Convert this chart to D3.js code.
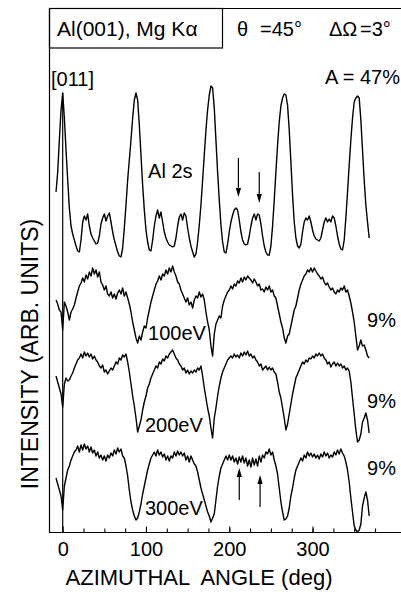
<!DOCTYPE html>
<html><head><meta charset="utf-8">
<script src="https://cdn.jsdelivr.net/npm/d3@7"></script>
<style>
html,body{margin:0;padding:0;background:#fff;}
svg{display:block;}
text{font-family:"Liberation Sans",Arial,Helvetica,sans-serif;fill:#000;white-space:pre;}
</style></head><body>
<svg id="chart" width="401" height="592"></svg>
<script>
// Azimuthal scans, Al(001) Mg K-alpha, stacked (arb. units)
const angles = d3.range(-8, 369, 2);

const al2s = [
  340, 360, 392, 422, 439, 414, 382, 352, 324, 306,
  298, 292, 286, 281, 280, 292, 310, 316, 312, 318,
  306, 298, 294, 291, 288, 289, 296, 308, 314, 318,
  311, 316, 319, 310, 300, 292, 286, 280, 276, 275,
  284, 304, 327, 352, 372, 392, 414, 432, 439, 432,
  407, 377, 347, 322, 302, 290, 282, 281, 292, 306,
  316, 322, 314, 320, 310, 300, 294, 290, 287, 286,
  285, 286, 294, 306, 315, 318, 312, 319, 316, 304,
  294, 286, 280, 275, 278, 290, 307, 327, 352, 377,
  402, 422, 437, 446, 444, 424, 392, 360, 332, 307,
  290, 280, 279, 288, 300, 310, 317, 322, 324, 322,
  312, 300, 292, 288, 287, 288, 296, 306, 314, 318,
  312, 318, 317, 308, 296, 286, 280, 277, 277, 286,
  306, 332, 360, 387, 410, 426, 434, 438, 437, 427,
  402, 370, 337, 310, 294, 286, 284, 288, 300, 310,
  314, 312, 316, 310, 302, 296, 293, 292, 291, 294,
  302, 310, 314, 310, 313, 310, 316, 314, 306, 296,
  288, 283, 282, 292, 314, 340, 367, 392, 414, 430,
  434, 436, 434, 412, 382, 352, 327, 310, 294
];

const ev100 = [
  232, 228, 222, 220, 202, 230, 226, 220, 212, 220,
  223, 227, 234, 240, 246, 249, 254, 250, 257, 253,
  260, 256, 264, 258, 262, 255, 260, 250, 247, 242,
  246, 238, 236, 240, 234, 238, 233, 239, 242, 238,
  244, 236, 240, 234, 228, 220, 210, 202, 194, 189,
  196, 192, 200, 206, 204, 214, 222, 230, 236, 242,
  248, 251, 256, 252, 258, 256, 262, 258, 264, 260,
  266, 260, 256, 250, 248, 242, 238, 234, 230, 234,
  227, 230, 224, 232, 236, 234, 240, 235, 238, 232,
  220, 210, 202, 186, 176, 198, 208, 212, 216, 214,
  226, 232, 236, 240, 242, 246, 243, 248, 246, 251,
  249, 254, 250, 255, 252, 256, 254, 252, 249, 253,
  250, 246, 248, 242, 243, 240, 245, 242, 246, 240,
  242, 236, 234, 226, 218, 210, 204, 194, 189, 196,
  198, 206, 214, 222, 226, 234, 242, 248, 252, 256,
  258, 262, 260, 264, 260, 264, 261, 258, 256, 253,
  255, 250, 247, 249, 245, 242, 244, 240, 238, 242,
  240, 244, 242, 246, 240, 242, 236, 229, 220, 210,
  196, 182, 186, 192, 186, 187, 182, 176, 174
];

const ev200 = [
  156, 150, 144, 138, 125, 148, 154, 151, 152, 156,
  159, 164, 168, 172, 174, 178, 174, 180, 176, 179,
  175, 178, 173, 176, 172, 170, 166, 164, 167, 160,
  162, 158, 161, 164, 162, 166, 170, 168, 174, 172,
  177, 175, 178, 170, 160, 148, 136, 126, 114, 100,
  106, 112, 122, 130, 136, 144, 148, 154, 158, 162,
  166, 164, 170, 168, 173, 171, 176, 174, 178, 180,
  182, 178, 174, 172, 168, 166, 162, 164, 159, 162,
  158, 161, 159, 162, 160, 164, 162, 166, 156, 144,
  134, 124, 116, 104, 94, 114, 124, 136, 146, 154,
  160, 164, 168, 172, 174, 176, 174, 178, 175, 177,
  174, 179, 176, 180, 177, 181, 176, 178, 174, 176,
  172, 170, 166, 168, 162, 164, 166, 162, 165, 162,
  164, 160, 158, 150, 140, 134, 124, 114, 102, 108,
  118, 128, 138, 146, 154, 158, 162, 166, 170, 168,
  172, 170, 174, 173, 176, 174, 178, 176, 179, 176,
  178, 174, 172, 168, 170, 165, 168, 170, 166, 169,
  166, 168, 164, 166, 162, 164, 161, 150, 134, 118,
  102, 90, 92, 98, 110, 114, 119, 112, 99
];

const ev300 = [
  54, 48, 42, 36, 22, 46, 54, 62, 66, 72,
  76, 80, 82, 86, 80, 87, 82, 88, 83, 86,
  80, 85, 79, 82, 76, 80, 74, 77, 72, 76,
  71, 77, 74, 79, 76, 82, 78, 84, 80, 83,
  76, 74, 66, 56, 42, 30, 22, 16, 12, 14,
  20, 28, 38, 46, 54, 62, 68, 74, 77, 80,
  76, 82, 77, 80, 75, 78, 72, 76, 71, 76,
  74, 80, 76, 81, 77, 80, 76, 79, 72, 76,
  70, 76, 72, 68, 66, 60, 52, 44, 38, 32,
  26, 20, 16, 10, 14, 18, 32, 46, 56, 64,
  68, 72, 76, 72, 77, 72, 76, 70, 74, 68,
  75, 70, 76, 69, 74, 66, 72, 65, 74, 67,
  73, 66, 76, 70, 77, 74, 80, 78, 83, 77,
  80, 72, 66, 58, 44, 30, 20, 12, 13, 16,
  24, 36, 44, 54, 62, 66, 70, 74, 71, 77,
  74, 80, 76, 79, 75, 78, 74, 77, 73, 78,
  75, 80, 76, 79, 74, 77, 75, 80, 77, 82,
  78, 83, 79, 76, 70, 62, 50, 34, 20, 6,
  2, 0, 2, 8, 26, 34, 40, 32, 16
];

const series = [al2s, ev100, ev200, ev300];
const seriesLabels = ["Al 2s", "100eV", "200eV", "300eV"];
const labelAnchors = [[102.5, 354], [102.5, 192], [98.8, 100], [98.8, 17]];
const anisotropyLabels = ["9%", "9%", "9%"];
const anisotropyAnchors = [[365.5, 205], [365.5, 124], [365.5, 57]];
const majorTicks = [0, 100, 200, 300];
const minorTicks = d3.range(25, 376, 25);
const downArrows = [[211, 374, 335], [236, 360, 329]];
const upArrows = [[212, 32, 64], [237, 25, 57]];

const svg = d3.select("#chart");
const W = 401, H = 592;
const x = d3.scaleLinear().domain([-15, 405]).range([50.2, 400]);
const y = d3.scaleLinear().domain([0, 524]).range([532, 8]);

// frame: left side, top side, header box
svg.append("line").attr("x1", 49.5).attr("x2", 49.5).attr("y1", 8).attr("y2", 532.5)
  .attr("stroke", "#000").attr("stroke-width", 1.2);
svg.append("line").attr("x1", 49).attr("x2", W).attr("y1", 8.5).attr("y2", 8.5)
  .attr("stroke", "#000").attr("stroke-width", 1.2);
svg.append("rect").attr("x", 49.5).attr("y", 8.5).attr("width", 173).attr("height", 39.5)
  .attr("fill", "none").attr("stroke", "#000").attr("stroke-width", 1.2);

// header: sample, source, polar angle, acceptance
svg.append("text").attr("x", 57).attr("y", 36).attr("font-size", 21).text("Al(001), Mg K\u03b1");
svg.append("text").attr("x", 237).attr("y", 36).attr("font-size", 20).text("\u03b8");
svg.append("text").attr("x", 260).attr("y", 36).attr("font-size", 20).text("=45\u00b0");
svg.append("text").attr("x", 329).attr("y", 36).attr("font-size", 20).text("\u0394\u03a9");
svg.append("text").attr("x", 360).attr("y", 36).attr("font-size", 20).text("=3\u00b0");
svg.append("text").attr("x", 51).attr("y", 86).attr("font-size", 20).text("[011]");
svg.append("text").attr("x", 400).attr("y", 84).attr("text-anchor", "end").attr("font-size", 20).text("A = 47%");

// x axis
svg.append("line").attr("x1", 49).attr("x2", W).attr("y1", 532.5).attr("y2", 532.5)
  .attr("stroke", "#000").attr("stroke-width", 1.2);
const minorAxis = d3.axisBottom(x).tickValues(minorTicks).tickSize(-4).tickFormat("");
const majorAxis = d3.axisBottom(x).tickValues(majorTicks).tickSize(-6).tickPadding(9).tickFormat(d3.format("d"));
const gMinor = svg.append("g").attr("transform", "translate(0,532.5)").call(minorAxis);
const gMajor = svg.append("g").attr("transform", "translate(0,532.5)").call(majorAxis);
[gMinor, gMajor].forEach(g => {
  g.select(".domain").remove();
  g.selectAll(".tick line").attr("stroke", "#000").attr("stroke-width", 1.1);
});
gMajor.selectAll(".tick text").attr("font-size", 20)
  .attr("font-family", "Liberation Sans, Arial, sans-serif").attr("fill", "#000");

svg.append("text").attr("x", 199).attr("y", 585).attr("text-anchor", "middle")
  .attr("font-size", 22).text("AZIMUTHAL  ANGLE (deg)");
svg.append("text").attr("transform", "translate(38,354) rotate(-90)").attr("text-anchor", "middle")
  .attr("font-size", 23).text("INTENSITY (ARB. UNITS)");

// 0 degree reference line
svg.append("line").attr("x1", x(0)).attr("x2", x(0)).attr("y1", y(0)).attr("y2", y(al2s[angles.indexOf(0)]))
  .attr("stroke", "#000").attr("stroke-width", 1.2);

// curves
const line = d3.line().x((d, i) => x(angles[i])).y(d => y(d));
series.forEach(s => {
  svg.append("path").attr("d", line(s)).attr("fill", "none")
    .attr("stroke", "#000").attr("stroke-width", 1.4).attr("stroke-linejoin", "round");
});

seriesLabels.forEach((t, i) => {
  svg.append("text").attr("x", x(labelAnchors[i][0])).attr("y", y(labelAnchors[i][1]))
    .attr("font-size", 20).text(t);
});
anisotropyLabels.forEach((t, i) => {
  svg.append("text").attr("x", x(anisotropyAnchors[i][0])).attr("y", y(anisotropyAnchors[i][1]))
    .attr("font-size", 20).text(t);
});

// arrows marking weak features
function arrow(a, from, to) {
  const xa = x(a), y0 = y(from), y1 = y(to);
  const dir = Math.sign(y1 - y0);
  svg.append("line").attr("x1", xa).attr("x2", xa).attr("y1", y0).attr("y2", y1 - dir * 7)
    .attr("stroke", "#000").attr("stroke-width", 1.2);
  svg.append("path").attr("d", `M${xa},${y1} L${xa - 2.6},${y1 - dir * 9} L${xa + 2.6},${y1 - dir * 9} Z`)
    .attr("fill", "#000");
}
downArrows.forEach(d => arrow(d[0], d[1], d[2]));
upArrows.forEach(d => arrow(d[0], d[1], d[2]));
</script>
</body></html>
